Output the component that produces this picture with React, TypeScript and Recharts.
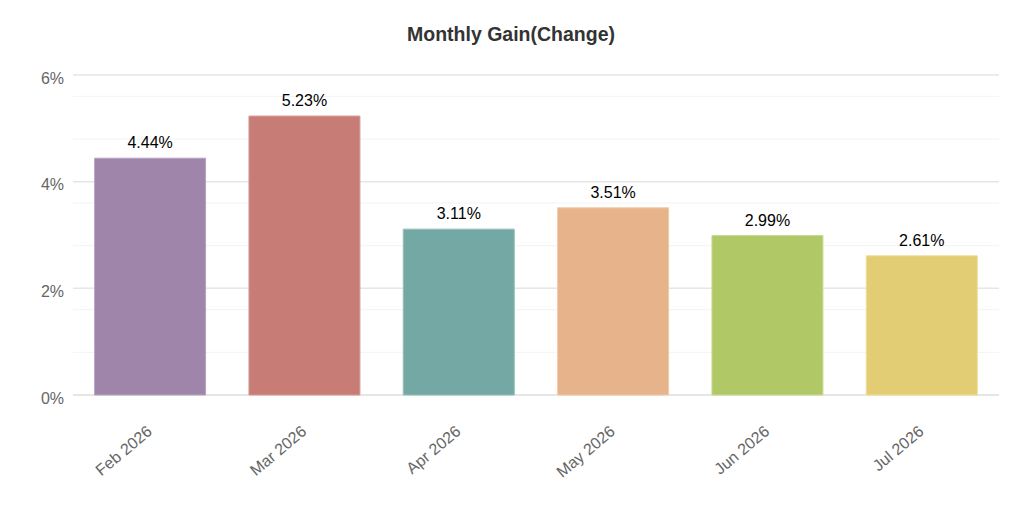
import React from "react";
import { BarChart, Bar, XAxis, YAxis, Cell, LabelList, CartesianGrid } from "recharts";

const months = ["Feb 2026", "Mar 2026", "Apr 2026", "May 2026", "Jun 2026", "Jul 2026"];
const gains = [4.44, 5.23, 3.11, 3.51, 2.99, 2.61];
const colors = ["#A085AA", "#C77C75", "#74A8A4", "#E6B38A", "#B0C866", "#E2CD74"];
const strokes = ["#B8A3C0", "#D69C96", "#95BEBA", "#F0CBA8", "#C8DB8C", "#EEDD98"];
const majorTicks = [0, 2, 4, 6];
const minorTicks = [0.4, 0.8, 1.2, 1.6, 2.4, 2.8, 3.2, 3.6, 4.4, 4.8, 5.2, 5.6];

const data = months.map((m, i) => ({ month: m, gain: gains[i] }));

const FONT = "'Liberation Sans', Arial, Helvetica, sans-serif";

const XTick = (props: any) => {
  const { x, payload } = props;
  const ax = x + 3;
  const ay = 433;
  return (
    <text
      x={ax}
      y={ay}
      transform={`rotate(-40 ${ax} ${ay})`}
      textAnchor="end"
      fill="#666"
      fontSize={16}
      fontFamily={FONT}
    >
      {payload.value}
    </text>
  );
};

export default function App() {
  return (
    <div style={{ position: "absolute", left: 0, top: 0, width: 1036, height: 506, background: "#fff", fontFamily: FONT }}>
      <div
        style={{
          position: "absolute",
          top: 23,
          left: -7,
          width: 1036,
          textAlign: "center",
          fontSize: 19.5,
          lineHeight: "22px",
          fontWeight: "bold",
          color: "#333",
          fontFamily: FONT,
        }}
      >
        Monthly Gain(Change)
      </div>
      <BarChart
        width={1036}
        height={506}
        data={data}
        margin={{ top: 75, right: 37, bottom: 31, left: 0 }}
        barCategoryGap="14%"
      >
        <CartesianGrid vertical={false} horizontalValues={minorTicks} stroke="#f3f3f3" strokeWidth={1} />
        <CartesianGrid vertical={false} horizontalValues={[2, 4, 6]} stroke="#e6e6e6" strokeWidth={1.5} />
        <CartesianGrid vertical={false} horizontalValues={[0]} stroke="#e6e6e6" strokeWidth={2} />
        <XAxis
          dataKey="month"
          axisLine={false}
          tickLine={false}
          interval={0}
          height={80}
          tick={<XTick />}
        />
        <YAxis
          domain={[0, 6]}
          ticks={majorTicks}
          width={73}
          axisLine={false}
          tickLine={false}
          tickFormatter={(v) => `${v}%`}
          tick={{ fill: "#666", fontSize: 16, fontFamily: FONT, dx: -1, dy: 3 }}
        />
        <Bar dataKey="gain" isAnimationActive={false}>
          {data.map((d, i) => (
            <Cell key={d.month} fill={colors[i]} stroke={strokes[i]} strokeWidth={1} />
          ))}
          <LabelList
            dataKey="gain"
            position="top"
            offset={10}
            formatter={(v: number) => `${v.toFixed(2)}%`}
            style={{ fill: "#000", fontSize: 16, fontFamily: FONT }}
          />
        </Bar>
      </BarChart>
    </div>
  );
}
